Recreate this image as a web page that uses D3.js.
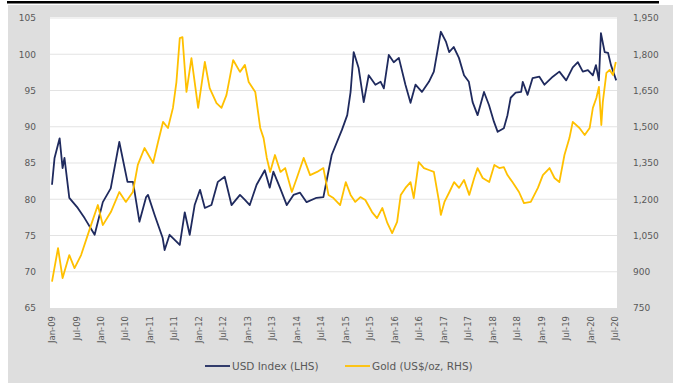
<!DOCTYPE html>
<html>
<head>
<meta charset="utf-8">
<script src="https://cdn.jsdelivr.net/npm/d3@7"></script>
<style>
  html, body { margin: 0; padding: 0; background: #ffffff; }
  svg { display: block; }
  text { font-family: "DejaVu Sans", Verdana, sans-serif; fill: #595959; }
</style>
</head>
<body>
<svg id="chart" width="678" height="385"></svg>
<script>
const usdDates = ["2009-01-01","2009-01-20","2009-02-27","2009-03-21","2009-04-04","2009-05-10","2009-07-12","2009-09-01","2009-11-15","2010-01-15","2010-03-15","2010-05-18","2010-07-18","2010-08-28","2010-10-15","2010-12-04","2010-12-18","2011-02-06","2011-04-06","2011-04-21","2011-05-28","2011-08-12","2011-09-18","2011-10-25","2011-12-01","2012-01-10","2012-02-15","2012-04-04","2012-05-22","2012-07-12","2012-09-01","2012-11-03","2012-12-10","2013-01-15","2013-03-07","2013-05-07","2013-06-13","2013-07-10","2013-08-28","2013-10-18","2013-12-07","2014-01-25","2014-03-15","2014-05-28","2014-07-18","2014-09-18","2014-12-04","2015-01-12","2015-02-06","2015-03-01","2015-04-07","2015-05-15","2015-06-21","2015-08-10","2015-09-18","2015-10-12","2015-11-18","2015-12-25","2016-02-01","2016-03-21","2016-04-28","2016-06-04","2016-07-22","2016-09-12","2016-10-19","2016-12-10","2017-01-18","2017-02-10","2017-03-16","2017-04-24","2017-06-01","2017-07-07","2017-08-04","2017-09-10","2017-10-28","2017-12-04","2018-01-10","2018-02-07","2018-03-25","2018-04-21","2018-05-15","2018-06-21","2018-08-01","2018-08-13","2018-09-18","2018-10-25","2018-12-15","2019-01-22","2019-03-25","2019-05-13","2019-07-03","2019-08-21","2019-09-28","2019-11-04","2019-12-12","2020-01-18","2020-02-10","2020-03-03","2020-03-18","2020-04-15","2020-05-10","2020-06-01","2020-07-10"];
const usdValues = [82.0,85.7,88.4,84.3,85.7,80.2,78.8,77.4,75.1,79.6,81.5,87.9,82.4,82.4,76.9,80.3,80.6,77.8,74.7,73.0,75.1,73.7,78.2,75.1,79.2,81.3,78.8,79.2,82.4,83.1,79.2,80.6,79.9,79.2,82.0,84.0,81.6,83.8,81.6,79.2,80.6,80.9,79.6,80.2,80.3,86.1,89.6,91.6,94.8,100.3,98.1,93.4,97.1,95.8,96.2,95.3,99.9,98.9,99.5,95.8,93.3,95.8,94.8,96.2,97.6,103.1,101.7,100.3,101.0,99.5,97.1,96.2,93.4,91.6,94.8,93.0,90.7,89.3,89.8,91.6,94.0,94.7,94.8,96.2,94.4,96.7,96.9,95.8,96.9,97.6,96.4,98.2,98.9,97.6,97.8,97.1,98.5,96.4,102.9,100.3,100.2,98.5,96.4];

const goldDates = ["2009-01-01","2009-02-15","2009-03-21","2009-05-10","2009-06-18","2009-08-06","2009-10-19","2009-12-09","2010-01-15","2010-03-16","2010-05-18","2010-07-06","2010-08-27","2010-10-03","2010-11-22","2011-01-25","2011-03-03","2011-04-09","2011-05-16","2011-06-22","2011-07-18","2011-08-12","2011-09-01","2011-10-01","2011-11-07","2011-12-27","2012-02-15","2012-03-22","2012-05-12","2012-06-18","2012-07-25","2012-09-13","2012-11-03","2012-12-10","2013-01-07","2013-02-25","2013-04-03","2013-04-28","2013-05-22","2013-06-16","2013-07-22","2013-09-01","2013-10-06","2013-11-25","2014-01-01","2014-02-21","2014-04-10","2014-06-01","2014-07-18","2014-08-25","2014-10-01","2014-11-20","2015-01-01","2015-02-06","2015-03-13","2015-04-20","2015-05-27","2015-07-16","2015-08-22","2015-10-01","2015-11-07","2015-12-13","2016-01-19","2016-02-15","2016-03-21","2016-04-28","2016-05-22","2016-06-28","2016-08-06","2016-09-12","2016-10-19","2016-11-27","2016-12-10","2017-01-06","2017-02-12","2017-03-19","2017-04-25","2017-06-01","2017-07-10","2017-08-16","2017-09-10","2017-10-18","2017-12-06","2018-01-13","2018-02-19","2018-03-25","2018-04-21","2018-05-28","2018-07-16","2018-08-22","2018-10-12","2018-12-04","2019-01-10","2019-03-01","2019-04-07","2019-05-13","2019-06-20","2019-07-27","2019-08-21","2019-10-10","2019-11-18","2019-12-25","2020-01-18","2020-02-13","2020-03-03","2020-03-21","2020-04-01","2020-04-28","2020-05-22","2020-06-16","2020-07-07"];
const goldValues = [859,998,874,969,915,969,1093,1176,1093,1147,1230,1189,1230,1342,1412,1350,1437,1520,1495,1578,1685,1867,1871,1644,1784,1578,1768,1660,1598,1578,1631,1776,1727,1756,1685,1644,1495,1453,1371,1313,1383,1313,1329,1230,1288,1371,1300,1313,1329,1218,1205,1176,1271,1218,1189,1209,1197,1147,1122,1164,1102,1060,1106,1218,1247,1271,1205,1354,1329,1321,1313,1189,1135,1189,1230,1271,1247,1280,1218,1288,1329,1288,1271,1342,1329,1333,1300,1271,1230,1184,1189,1247,1300,1329,1288,1271,1383,1453,1520,1495,1466,1495,1578,1619,1665,1507,1602,1723,1735,1714,1768];

const leftTicks = [65,70,75,80,85,90,95,100,105];
const rightTicks = [750,900,1050,1200,1350,1500,1650,1800,1950];
const seriesNames = ["USD Index (LHS)", "Gold (US$/oz, RHS)"];
const seriesColors = ["#1f2a5e", "#ffc000"];

const parse = d3.timeParse("%Y-%m-%d");
const usd = usdDates.map((d, i) => ({ date: parse(d), value: usdValues[i] }));
const gold = goldDates.map((d, i) => ({ date: parse(d), value: goldValues[i] }));

const svg = d3.select("#chart");

// top rule and panel background
svg.append("rect").attr("x", 7).attr("y", 1).attr("width", 652).attr("height", 2.5).attr("fill", "#000");
svg.append("rect").attr("x", 8).attr("y", 5).attr("width", 665).attr("height", 378).attr("fill", "#dedede");

const plot = { left: 50, right: 617, top: 17, bottom: 308 };
svg.append("rect").attr("x", plot.left).attr("y", plot.top)
  .attr("width", plot.right - plot.left).attr("height", plot.bottom - plot.top).attr("fill", "#ffffff");

const x = d3.scaleTime().domain([new Date(2009, 0, 1), new Date(2020, 6, 1)]).range([52, 615]);
const yL = d3.scaleLinear().domain([65, 105]).range([308, 18]);
const yR = d3.scaleLinear().domain([750, 1950]).range([308, 18]);

// gridlines
svg.append("g").selectAll("line").data(leftTicks.slice(1)).join("line")
  .attr("x1", plot.left).attr("x2", plot.right)
  .attr("y1", d => yL(d)).attr("y2", d => yL(d))
  .attr("stroke", "#e3e3e3").attr("stroke-width", 1);

// left axis
const axL = svg.append("g").attr("transform", `translate(${plot.left},0)`)
  .call(d3.axisLeft(yL).tickValues(leftTicks).tickSize(0).tickPadding(14).tickFormat(d3.format("d")));
axL.select(".domain").remove();
axL.selectAll("text").attr("font-size", 9).attr("fill", "#595959").style("font-family", "'DejaVu Sans', sans-serif");

// right axis
const axR = svg.append("g").attr("transform", `translate(${plot.right},0)`)
  .call(d3.axisRight(yR).tickValues(rightTicks).tickSize(0).tickPadding(16).tickFormat(d3.format(",")));
axR.select(".domain").remove();
axR.selectAll("text").attr("font-size", 9).attr("fill", "#595959").style("font-family", "'DejaVu Sans', sans-serif");

// bottom axis
const xTicks = d3.timeMonth.every(6).range(new Date(2009, 0, 1), new Date(2020, 7, 1));
const axB = svg.append("g").attr("transform", `translate(0,${plot.bottom})`)
  .call(d3.axisBottom(x).tickValues(xTicks).tickSize(0).tickFormat(d3.timeFormat("%b-%y")));
axB.select(".domain").remove();
axB.selectAll("text")
  .attr("font-size", 8.5).attr("fill", "#595959").style("font-family", "'DejaVu Sans', sans-serif")
  .attr("transform", "rotate(-90)")
  .attr("text-anchor", "end")
  .attr("x", -8).attr("y", 0).attr("dy", "0.32em");

// lines
const lineL = d3.line().x(d => x(d.date)).y(d => yL(d.value));
const lineR = d3.line().x(d => x(d.date)).y(d => yR(d.value));
svg.append("path").datum(usd).attr("d", lineL).attr("fill", "none")
  .attr("stroke", seriesColors[0]).attr("stroke-width", 1.8).attr("stroke-linejoin", "round");
svg.append("path").datum(gold).attr("d", lineR).attr("fill", "none")
  .attr("stroke", seriesColors[1]).attr("stroke-width", 1.8).attr("stroke-linejoin", "round");

// legend
const legendItems = [{ x: 205, name: seriesNames[0], color: seriesColors[0] },
                     { x: 345, name: seriesNames[1], color: seriesColors[1] }];
const lg = svg.append("g").selectAll("g").data(legendItems).join("g")
  .attr("transform", d => `translate(${d.x},366)`);
lg.append("line").attr("x1", 0).attr("x2", 25).attr("y1", 0).attr("y2", 0)
  .attr("stroke", d => d.color).attr("stroke-width", 1.8);
lg.append("text").attr("x", 27).attr("y", 0).attr("dy", "0.35em")
  .attr("font-size", 10.5).text(d => d.name);
</script>
</body>
</html>
